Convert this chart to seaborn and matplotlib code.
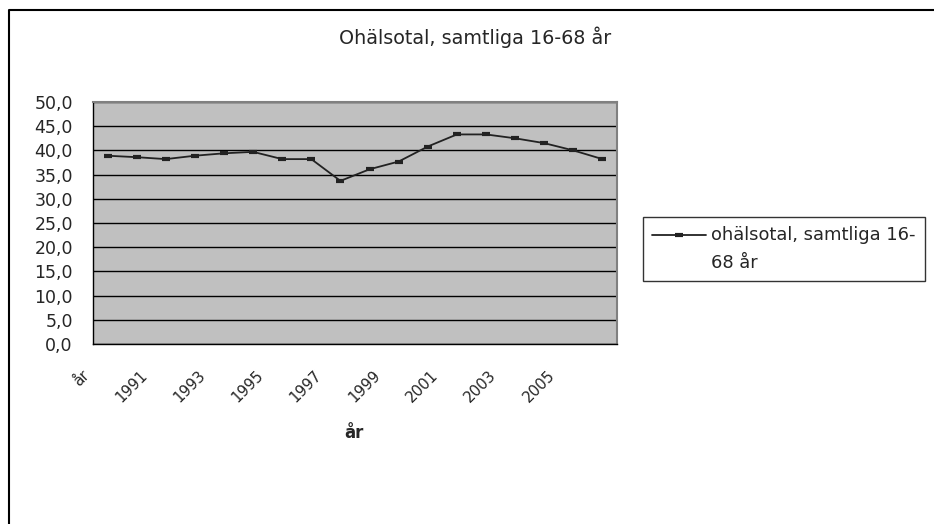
import matplotlib
matplotlib.use("Agg")
import matplotlib.pyplot as plt
from matplotlib.lines import Line2D
from matplotlib.legend_handler import HandlerLine2D
from matplotlib.ticker import FixedLocator, FuncFormatter
from matplotlib.transforms import ScaledTranslation
import seaborn as sns
import pandas as pd

# Sickness rate (ohälsotal), all persons aged 16-68
categories = ["år", "1990", "1991", "1992", "1993", "1994", "1995", "1996", "1997",
              "1998", "1999", "2000", "2001", "2002", "2003", "2004", "2005", "2006"]
values = [38.9, 38.6, 38.2, 38.9, 39.4, 39.7, 38.2, 38.2, 33.7,
          36.1, 37.7, 40.8, 43.3, 43.3, 42.5, 41.5, 40.0, 38.2]
series_name = "ohälsotal, samtliga 16-68 år"
legend_label = "ohälsotal, samtliga 16-\n68 år"
title = "Ohälsotal, samtliga 16-68 år"
x_label = "år"
y_ticks = [0, 5, 10, 15, 20, 25, 30, 35, 40, 45, 50]

LINE_COLOR = "#222222"

df = pd.DataFrame({"kategori": categories, "värde": values})
df["pos"] = range(len(categories))

sns.set_style("white")
plt.rcParams["font.family"] = ["DejaVu Sans"]

fig = plt.figure(figsize=(9.34, 5.24), dpi=100)
ax = fig.add_axes([93 / 934, 1 - 344 / 524, (617 - 93) / 934, (344 - 102) / 524])
ax.set_facecolor("#C0C0C0")

sns.lineplot(data=df, x="pos", y="värde", ax=ax, sort=False, color=LINE_COLOR,
             linewidth=1.3, marker="_", markersize=6, markeredgewidth=3,
             markeredgecolor=LINE_COLOR, legend=False)

ax.set_xlim(-0.5, len(categories) - 0.5)
ax.set_ylim(0, 50)

# horizontal gridlines with comma decimal labels
ax.yaxis.set_major_locator(FixedLocator(y_ticks))
ax.yaxis.set_major_formatter(FuncFormatter(lambda v, p: f"{v:.1f}".replace(".", ",")))
ax.grid(axis="y", color="black", linewidth=1.0)
ax.grid(axis="x", visible=False)
ax.set_axisbelow(True)
ax.tick_params(axis="y", which="major", direction="out", length=4.5, width=1,
               color="black", labelsize=12.5, pad=10)

# category labels on every other category, tick marks on category borders
pos = list(df["pos"])
ax.set_xticks(pos)
ax.set_xticklabels([c if i % 2 == 0 else "" for i, c in enumerate(categories)],
                   rotation=45, ha="right", va="center", rotation_mode="anchor")
ax.tick_params(axis="x", which="major", length=0, labelsize=10.8, pad=21)
shift = ScaledTranslation(-0.21, 0, fig.dpi_scale_trans)
for lbl in ax.get_xticklabels():
    lbl.set_transform(lbl.get_transform() + shift)
ax.set_xticks([p - 0.5 for p in pos] + [len(categories) - 0.5], minor=True)
ax.tick_params(axis="x", which="minor", direction="out", length=5, width=1,
               color="black")

for side in ["left", "bottom"]:
    ax.spines[side].set_color("black")
    ax.spines[side].set_linewidth(1.0)
for side in ["top", "right"]:
    ax.spines[side].set_visible(True)
    ax.spines[side].set_color("#808080")
    ax.spines[side].set_linewidth(1.5)

ax.set_ylabel("")
ax.set_xlabel(x_label, fontsize=12, fontweight="bold")
ax.xaxis.set_label_coords(0.498, (344 - 433) / 242)
ax.xaxis.label.set_verticalalignment("center")

fig.text(475 / 934, 1 - 37 / 524, title, ha="center", va="center", fontsize=13.8)


class TopLineHandler(HandlerLine2D):
    """Place the legend sample level with the first line of a wrapped label."""

    def __init__(self, lift, **kw):
        super().__init__(**kw)
        self.lift = lift

    def create_artists(self, legend, orig_handle, xdescent, ydescent, width,
                       height, fontsize, trans):
        artists = super().create_artists(legend, orig_handle, xdescent, ydescent,
                                         width, height, fontsize, trans)
        for a in artists:
            a.set_ydata([y + self.lift for y in a.get_ydata()])
        return artists


handle = Line2D([], [], color=LINE_COLOR, linewidth=1.3, marker="_", markersize=6,
                markeredgewidth=3, markeredgecolor=LINE_COLOR)
leg = fig.legend([handle], [legend_label], loc="upper left",
                 bbox_to_anchor=(643 / 934, 1 - 217 / 524), fontsize=12.9,
                 frameon=True, fancybox=False, handlelength=3.0, handletextpad=0.3,
                 borderpad=0.5, borderaxespad=0,
                 handler_map={Line2D: TopLineHandler(lift=10.5)})
for t in leg.get_texts():
    t.set_linespacing(1.7)
leg.get_frame().set_edgecolor("black")
leg.get_frame().set_linewidth(1.0)

# outer chart frame
fig.add_artist(Line2D([9 / 934, 9 / 934, 1.0], [0.0, 1 - 10 / 524, 1 - 10 / 524],
                      transform=fig.transFigure, color="black", linewidth=1.5))

fig.savefig("out.png", dpi=100)
